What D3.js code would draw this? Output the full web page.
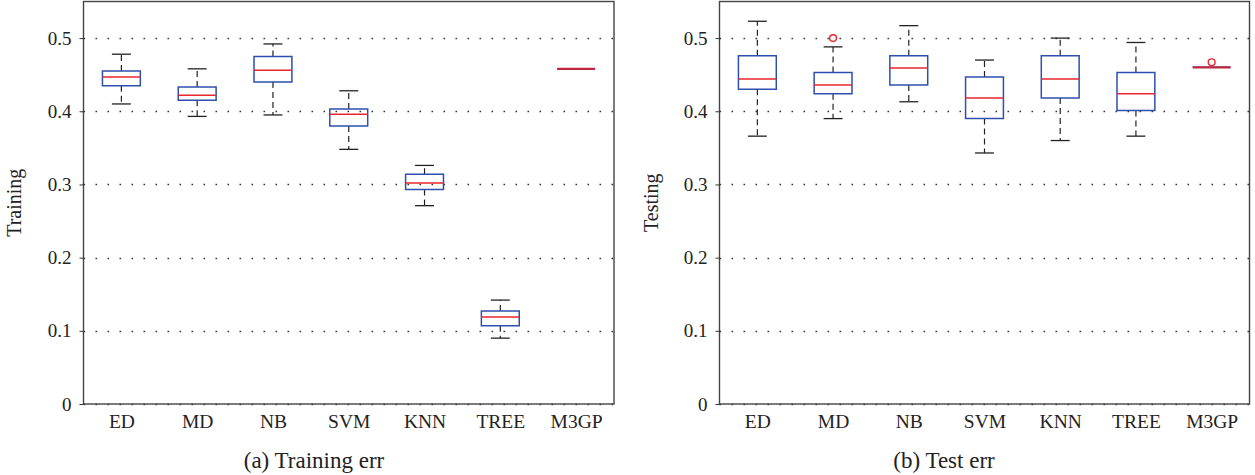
<!DOCTYPE html>
<html>
<head>
<meta charset="utf-8">
<script src="https://cdn.jsdelivr.net/npm/d3@7"></script>
<style>
  html, body { margin: 0; padding: 0; background: #fff; }
  svg { display: block; }
  text { font-family: "Liberation Serif", "DejaVu Serif", serif; fill: #222; }
</style>
</head>
<body>
<svg id="chart" width="1255" height="475"></svg>
<script>
// Methods compared
const categories = ["ED", "MD", "NB", "SVM", "KNN", "TREE", "M3GP"];

// Training error: lower whisker, first quartile, median, third quartile, upper whisker
const trainLow  = [0.410, 0.393, 0.395, 0.348, 0.271, 0.090, 0.458];
const trainQ1   = [0.435, 0.415, 0.440, 0.380, 0.293, 0.107, 0.458];
const trainMed  = [0.447, 0.422, 0.456, 0.396, 0.302, 0.119, 0.458];
const trainQ3   = [0.455, 0.433, 0.475, 0.403, 0.314, 0.127, 0.458];
const trainHigh = [0.478, 0.458, 0.492, 0.428, 0.326, 0.142, 0.458];
const trainOutliers = [];

// Test error
const testLow  = [0.366, 0.390, 0.413, 0.343, 0.360, 0.366, 0.460];
const testQ1   = [0.430, 0.424, 0.436, 0.390, 0.418, 0.401, 0.460];
const testMed  = [0.444, 0.436, 0.459, 0.418, 0.444, 0.424, 0.460];
const testQ3   = [0.476, 0.453, 0.476, 0.447, 0.476, 0.453, 0.460];
const testHigh = [0.523, 0.488, 0.517, 0.470, 0.500, 0.494, 0.460];
const testOutliers = [{ cat: "MD", value: 0.500 }, { cat: "M3GP", value: 0.467 }];

// Y axis ticks
const yTicks = [0, 0.1, 0.2, 0.3, 0.4, 0.5];

const svg = d3.select("#chart");

function buildRows(low, q1, med, q3, high) {
  return categories.map((c, i) => ({ cat: c, low: low[i], q1: q1[i], med: med[i], q3: q3[i], high: high[i] }));
}

function drawPanel(opts) {
  const { left, right, top, bottom, rows, outliers, yLabel, caption, yLabelX, captionX } = opts;
  const g = svg.append("g");

  const x = d3.scalePoint().domain(categories).range([left, right]).padding(0.5);
  const y = d3.scaleLinear().domain([0, 0.55]).range([bottom, top]);
  const step = x.step();
  const boxW = step * 0.5;
  const capW = step * 0.25;

  // Dotted horizontal grid
  g.append("g").selectAll("line")
    .data(yTicks)
    .join("line")
    .attr("x1", left).attr("x2", right)
    .attr("y1", d => Math.round(y(d)) + 0.5).attr("y2", d => Math.round(y(d)) + 0.5)
    .attr("stroke", "#333")
    .attr("stroke-width", 1.3)
    .attr("stroke-dasharray", "1.6,10.4");

  // Frame
  g.append("rect")
    .attr("x", left).attr("y", top)
    .attr("width", right - left).attr("height", bottom - top)
    .attr("fill", "none")
    .attr("stroke", "#444")
    .attr("stroke-width", 1.4);

  // Y axis
  const yAxis = d3.axisLeft(y)
    .tickValues(yTicks)
    .tickSize(4)
    .tickPadding(8)
    .tickFormat(d => d === 0 ? "0" : d3.format(".1f")(d));
  const ya = g.append("g").attr("transform", `translate(${left},0)`).call(yAxis);
  ya.select(".domain").remove();
  ya.selectAll(".tick line").attr("stroke", "#333");
  ya.selectAll(".tick text")
    .attr("font-family", "Liberation Serif, serif")
    .attr("font-size", 19)
    .attr("fill", "#222");

  // X axis
  const xAxis = d3.axisBottom(x).tickSize(0).tickPadding(10);
  const xa = g.append("g").attr("transform", `translate(0,${bottom})`).call(xAxis);
  xa.select(".domain").remove();
  xa.selectAll(".tick text")
    .attr("font-family", "Liberation Serif, serif")
    .attr("font-size", 19.5)
    .attr("fill", "#222");

  // Y axis title
  g.append("text")
    .attr("transform", `translate(${yLabelX},${(top + bottom) / 2}) rotate(-90)`)
    .attr("text-anchor", "middle")
    .attr("font-size", 20)
    .text(yLabel);

  // Caption below panel
  g.append("text")
    .attr("x", captionX)
    .attr("y", 468)
    .attr("text-anchor", "middle")
    .attr("font-size", 23)
    .text(caption);

  const boxes = g.append("g").selectAll("g")
    .data(rows)
    .join("g");

  // Dashed whiskers
  boxes.append("line")
    .attr("x1", d => x(d.cat)).attr("x2", d => x(d.cat))
    .attr("y1", d => y(d.q3)).attr("y2", d => y(d.high))
    .attr("stroke", "#222").attr("stroke-width", 1.2)
    .attr("stroke-dasharray", "6,4");
  boxes.append("line")
    .attr("x1", d => x(d.cat)).attr("x2", d => x(d.cat))
    .attr("y1", d => y(d.q1)).attr("y2", d => y(d.low))
    .attr("stroke", "#222").attr("stroke-width", 1.2)
    .attr("stroke-dasharray", "6,4");

  // Whisker caps
  boxes.filter(d => d.high > d.q3).append("line")
    .attr("x1", d => x(d.cat) - capW / 2).attr("x2", d => x(d.cat) + capW / 2)
    .attr("y1", d => y(d.high)).attr("y2", d => y(d.high))
    .attr("stroke", "#222").attr("stroke-width", 1.3);
  boxes.filter(d => d.low < d.q1).append("line")
    .attr("x1", d => x(d.cat) - capW / 2).attr("x2", d => x(d.cat) + capW / 2)
    .attr("y1", d => y(d.low)).attr("y2", d => y(d.low))
    .attr("stroke", "#222").attr("stroke-width", 1.3);

  // Interquartile box
  boxes.append("path")
    .attr("d", d => {
      const x0 = x(d.cat) - boxW / 2, x1 = x(d.cat) + boxW / 2;
      return `M${x0},${y(d.q3)}H${x1}V${y(d.q1)}H${x0}Z`;
    })
    .attr("fill", "none")
    .attr("stroke", "#2f4fae")
    .attr("stroke-width", 1.5);

  // Median
  boxes.append("line")
    .attr("x1", d => x(d.cat) - boxW / 2).attr("x2", d => x(d.cat) + boxW / 2)
    .attr("y1", d => y(d.med)).attr("y2", d => y(d.med))
    .attr("stroke", d => d.q1 === d.q3 ? "#c0283f" : "#e8262d")
    .attr("stroke-width", d => d.q1 === d.q3 ? 2.2 : 1.5);

  // Outliers
  g.append("g").selectAll("circle")
    .data(outliers)
    .join("circle")
    .attr("cx", d => x(d.cat))
    .attr("cy", d => y(d.value))
    .attr("r", 3.4)
    .attr("fill", "none")
    .attr("stroke", "#e8262d")
    .attr("stroke-width", 1.4);
}

drawPanel({
  left: 83.5, right: 614, top: 1.5, bottom: 404,
  rows: buildRows(trainLow, trainQ1, trainMed, trainQ3, trainHigh),
  outliers: trainOutliers,
  yLabel: "Training",
  caption: "(a) Training err",
  yLabelX: 21,
  captionX: 314
});

drawPanel({
  left: 719.5, right: 1249.5, top: 1.5, bottom: 404,
  rows: buildRows(testLow, testQ1, testMed, testQ3, testHigh),
  outliers: testOutliers,
  yLabel: "Testing",
  caption: "(b) Test err",
  yLabelX: 658,
  captionX: 944
});
</script>
</body>
</html>
